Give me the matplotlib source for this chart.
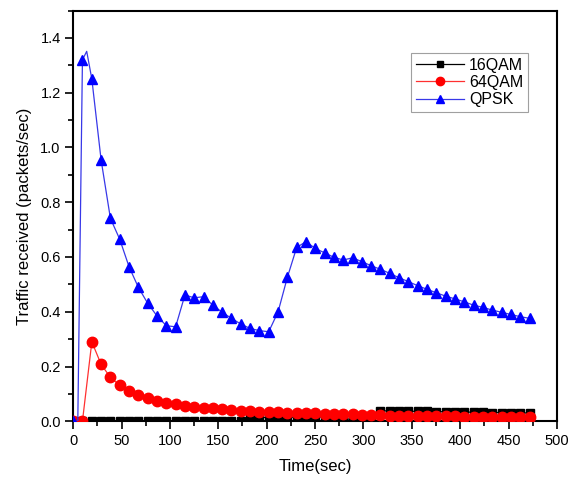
import matplotlib
matplotlib.use("Agg")
import matplotlib.pyplot as plt
from matplotlib.ticker import MultipleLocator

plt.rcParams['font.family'] = ['Liberation Sans', 'DejaVu Sans']

# Sample times (sec) for markers
time = [0, 9.6, 19.3, 28.9, 38.5, 48.1, 57.8, 67.4, 77.0, 86.6,
        96.3, 105.9, 115.5, 125.1, 134.8, 144.4, 154.0, 163.6, 173.3, 182.9,
        192.5, 202.1, 211.8, 221.4, 231.0, 240.6, 250.3, 259.9, 269.5, 279.1,
        288.8, 298.4, 308.0, 317.6, 327.3, 336.9, 346.5, 356.1, 365.8, 375.4,
        385.0, 394.6, 404.3, 413.9, 423.5, 433.1, 442.8, 452.4, 462.0, 471.6]

qam16 = [0, 0, 0, 0, 0, 0, 0, 0, 0, 0,
         0, 0, 0, 0, 0, 0, 0, 0, 0, 0.014,
         0.014, 0.014, 0.014, 0.015, 0.015, 0.016, 0.016, 0.016, 0.008, 0.008,
         0.008, 0.008, 0.008, 0.038, 0.038, 0.037, 0.037, 0.036, 0.036, 0.035,
         0.035, 0.034, 0.034, 0.033, 0.033, 0.032, 0.032, 0.031, 0.031, 0.030]

qam64 = [0, 0, 0.290, 0.208, 0.160, 0.132, 0.111, 0.096, 0.084, 0.075,
         0.068, 0.062, 0.056, 0.053, 0.050, 0.047, 0.045, 0.041, 0.039, 0.038,
         0.035, 0.034, 0.033, 0.032, 0.031, 0.030, 0.029, 0.028, 0.027, 0.026,
         0.025, 0.024, 0.023, 0.022, 0.021, 0.020, 0.020, 0.019, 0.019, 0.018,
         0.018, 0.018, 0.017, 0.017, 0.017, 0.016, 0.016, 0.016, 0.016, 0.016]

qpsk = [0, 1.320, 1.250, 0.954, 0.741, 0.665, 0.564, 0.489, 0.431, 0.385,
        0.349, 0.345, 0.461, 0.451, 0.455, 0.424, 0.398, 0.376, 0.355, 0.339,
        0.331, 0.327, 0.400, 0.526, 0.635, 0.656, 0.631, 0.615, 0.599, 0.589,
        0.597, 0.583, 0.568, 0.555, 0.540, 0.524, 0.510, 0.495, 0.482, 0.469,
        0.457, 0.447, 0.436, 0.424, 0.416, 0.406, 0.398, 0.390, 0.382, 0.376]

# extra un-marked samples visible in the lines
qpsk_extra_t = [4.8, 14.0]
qpsk_extra_v = [0.0, 1.351]

labels = ['16QAM', '64QAM', 'QPSK']

fig = plt.figure(figsize=(5.76, 4.79), dpi=100)
ax = fig.add_axes([0.127, 0.1205, 0.840, 0.8575])

# QPSK line with extra points merged
pts = sorted(list(zip(time, qpsk)) + list(zip(qpsk_extra_t, qpsk_extra_v)))
lt = [p[0] for p in pts]
lv = [p[1] for p in pts]
mark_idx = [i for i, p in enumerate(pts) if p[0] in time]

ax.plot(time, qam16, color='black', lw=0.9, marker='s', ms=5.8,
        mec='black', mfc='black', label=labels[0], zorder=3)
ax.plot(time, qam64, color='#ff3030', lw=0.9, marker='o', ms=7.5,
        mec='red', mfc='red', label=labels[1], zorder=4)
ax.plot(lt, lv, color='#3838e8', lw=0.9, marker='^', ms=7.5,
        mec='#0000ff', mfc='#0000ff', markevery=mark_idx, label=labels[2], zorder=5)

ax.set_xlim(0, 500)
ax.set_ylim(0, 1.5)
ax.xaxis.set_major_locator(MultipleLocator(50))
ax.xaxis.set_minor_locator(MultipleLocator(25))
ax.yaxis.set_major_locator(MultipleLocator(0.2))
ax.yaxis.set_minor_locator(MultipleLocator(0.1))
ax.yaxis.set_major_formatter(matplotlib.ticker.FormatStrFormatter('%.1f'))

ax.tick_params(which='major', direction='out', length=6, width=1.2,
               labelsize=10.5, top=False, right=False, pad=3)
ax.tick_params(which='minor', direction='out', length=3.5, width=1.2,
               top=False, right=False)
for s in ax.spines.values():
    s.set_linewidth(1.5)

ax.set_xlabel('Time(sec)', fontsize=12, labelpad=8)
ax.set_ylabel('Traffic received (packets/sec)', fontsize=12, labelpad=6)

leg = ax.legend(loc='upper right', bbox_to_anchor=(0.940, 0.897),
                fontsize=11.5, frameon=True, fancybox=False, shadow=False,
                handlelength=3.0, borderpad=0.3, labelspacing=0.15,
                handletextpad=0.3, borderaxespad=0, markerscale=0.8)
leg.get_frame().set_edgecolor('#888888')
leg.get_frame().set_linewidth(0.8)

fig.savefig('out.png', dpi=100)
